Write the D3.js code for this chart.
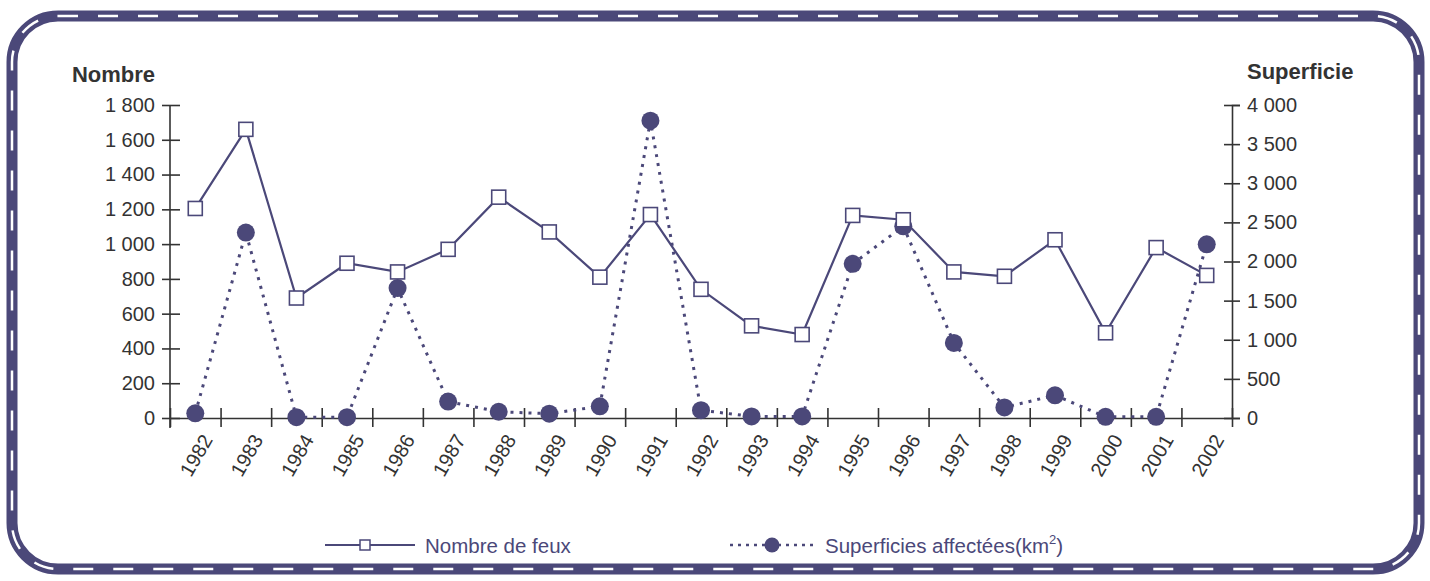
<!DOCTYPE html>
<html lang="fr">
<head>
    <meta charset="UTF-8">
    <title>Nombre de feux et superficies affectées</title>
    <script src="https://d3js.org/d3.v7.min.js"></script>
</head>
<body style="margin: 0px; background: #fff;">

    <script>

        var years=['1982','1983','1984','1985','1986','1987','1988','1989','1990','1991',
        '1992','1993','1994','1995','1996','1997','1998','1999','2000','2001','2002'];
        var nombreFeux=[1205,1660,690,890,840,970,1270,1070,810,1170,
        740,530,480,1165,1140,840,815,1025,490,980,820];
        var superficies=[60,2370,10,10,1660,210,80,55,150,3800,
        100,20,20,1970,2450,960,135,290,15,15,2220];
        var leftTicks=[0,200,400,600,800,1000,1200,1400,1600,1800];
        var rightTicks=[0,500,1000,1500,2000,2500,3000,3500,4000];

        var width=1430;
        var height=581;
        var purple='#4b4879';
        var ink='#333';
        var fmt=function (d) {
            return d3.format(',')(d).replace(/,/g,' ');
        };

        var svg=d3.select('body').append('svg')
                .attr('width',width)
                .attr('height',height)
                .style('font-family','Liberation Sans, Arial, sans-serif');

        // cadre arrondi, trait épais avec tirets blancs
        svg.append('rect')
                .attr('x',12).attr('y',16)
                .attr('width',1407).attr('height',553)
                .attr('rx',46).attr('ry',46)
                .attr('fill','none')
                .attr('stroke',purple)
                .attr('stroke-width',11);
        svg.append('rect')
                .attr('x',12).attr('y',16)
                .attr('width',1407).attr('height',553)
                .attr('rx',46).attr('ry',46)
                .attr('fill','none')
                .attr('stroke','#fff')
                .attr('stroke-width',2.5)
                .attr('stroke-dasharray','20,20');

        var x=d3.scaleBand().domain(years).range([170,1232]);
        var xEdge=d3.scaleLinear().domain([0,years.length]).range([170,1232]);
        var yLeft=d3.scaleLinear().domain([0,1800]).range([418,105]);
        var yRight=d3.scaleLinear().domain([0,4000]).range([418,105]);
        var cx=function (d,i) {
            return x(years[i])+x.bandwidth()/2;
        };

        // axe gauche
        var gl=svg.append('g').attr('transform','translate(170,0)')
                .call(d3.axisLeft(yLeft).tickValues(leftTicks).tickFormat(fmt)
                        .tickSize(8).tickPadding(7));
        gl.selectAll('line').attr('x1',10);
        // axe droit
        var gr=svg.append('g').attr('transform','translate(1232,0)')
                .call(d3.axisRight(yRight).tickValues(rightTicks).tickFormat(fmt)
                        .tickSize(8).tickPadding(7));
        gr.selectAll('line').attr('x1',-8);
        // axe x, graduations entre les années
        var gx=svg.append('g').attr('transform','translate(0,418)')
                .call(d3.axisBottom(xEdge).tickValues(d3.range(0,years.length+1))
                        .tickFormat('').tickSize(9).tickSizeOuter(0));
        gx.selectAll('.tick line').attr('y1',-10);

        [gl,gr,gx].forEach(function (g) {
            g.select('.domain').attr('stroke',ink).attr('stroke-width',1.6);
            g.selectAll('.tick line').attr('stroke',ink).attr('stroke-width',1.6);
            g.selectAll('text').attr('fill',ink).style('font-size','20px')
                    .style('font-family','Liberation Sans, Arial, sans-serif');
        });
        gl.select('.domain').attr('d','M0,105V428');

        svg.append('g').selectAll('text')
                .data(years).enter().append('text')
                .attr('transform',function (d) {
                    return 'translate('+(x(d)+x.bandwidth()/2+12)+',436) rotate(-60)';
                })
                .attr('text-anchor','end')
                .attr('dy','0.35em')
                .attr('fill',ink)
                .style('font-size','20px')
                .text(function (d) {
                    return d;
                });

        svg.append('text').attr('x',155).attr('y',82)
                .attr('text-anchor','end')
                .attr('fill',ink)
                .style('font-size','22px').style('font-weight','bold')
                .text('Nombre');
        svg.append('text').attr('x',1247).attr('y',79)
                .attr('fill',ink)
                .style('font-size','22px').style('font-weight','bold')
                .text('Superficie');

        // superficies (pointillés, axe droit)
        var lineS=d3.line()
                .x(cx)
                .y(function (d) { return yRight(d); });
        svg.append('path').datum(superficies)
                .attr('d',lineS)
                .attr('fill','none')
                .attr('stroke',purple)
                .attr('stroke-width',3)
                .attr('stroke-dasharray','3,6');
        svg.selectAll('circle.sup')
                .data(superficies).enter().append('circle')
                .attr('class','sup')
                .attr('cx',cx)
                .attr('cy',function (d) { return yRight(d); })
                .attr('r',9)
                .attr('fill',purple);

        // nombre de feux (trait plein, axe gauche)
        var lineN=d3.line()
                .x(cx)
                .y(function (d) { return yLeft(d); });
        svg.append('path').datum(nombreFeux)
                .attr('d',lineN)
                .attr('fill','none')
                .attr('stroke',purple)
                .attr('stroke-width',2.2);
        svg.selectAll('rect.feux')
                .data(nombreFeux).enter().append('rect')
                .attr('class','feux')
                .attr('x',function (d,i) { return cx(d,i)-7; })
                .attr('y',function (d) { return yLeft(d)-7; })
                .attr('width',14).attr('height',14)
                .attr('fill','#fff')
                .attr('stroke',purple)
                .attr('stroke-width',1.6);

        // légende
        var leg=svg.append('g');
        leg.append('line').attr('x1',325).attr('x2',415).attr('y1',545).attr('y2',545)
                .attr('stroke',purple).attr('stroke-width',2);
        leg.append('rect').attr('x',360).attr('y',540).attr('width',10).attr('height',10)
                .attr('fill','#fff').attr('stroke',purple).attr('stroke-width',1.5);
        leg.append('text').attr('x',425).attr('y',553)
                .attr('fill',purple).style('font-size','20.5px')
                .text('Nombre de feux');
        leg.append('line').attr('x1',730).attr('x2',815).attr('y1',545).attr('y2',545)
                .attr('stroke',purple).attr('stroke-width',2.5)
                .attr('stroke-dasharray','3,5');
        leg.append('circle').attr('cx',772).attr('cy',545).attr('r',7.5)
                .attr('fill',purple);
        var t2=leg.append('text').attr('x',825).attr('y',553)
                .attr('fill',purple).style('font-size','20.5px');
        t2.append('tspan').text('Superficies affectées(km');
        t2.append('tspan').attr('dy',-9).style('font-size','13px').text('2');
        t2.append('tspan').attr('dy',9).text(')');
    </script>
</body>
</html>
